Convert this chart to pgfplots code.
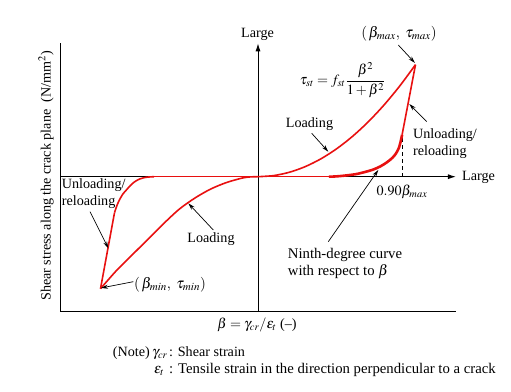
\documentclass[border=0pt]{standalone}
\usepackage{mathptmx}
\usepackage[no-math]{fontspec}
\setmainfont{Liberation Serif}
\usepackage{pgfplots}
\pgfplotsset{compat=1.18}
\usetikzlibrary{arrows.meta}
\definecolor{cred}{RGB}{232,16,16}
\tikzset{ann/.style={-{Stealth[length=7bp,width=4bp]}, line width=0.7bp},
  lbl/.style={inner sep=0pt}}
\newcommand\fs[1]{\fontsize{#1}{16.7}\selectfont}
\begin{document}
\fontsize{14}{16.7}\selectfont
\begin{tikzpicture}[font=\fs{14.2}]
\useasboundingbox (0,0) rectangle (511bp,-392bp);
\begin{axis}[
  at={(60.7bp,-311.7bp)}, anchor=south west,
  x=157.5bp, y=112bp,
  xmin=-1.2527, xmax=1.2571, ymin=-1.2054, ymax=1.1911,
  axis x line*=bottom, axis y line*=left,
  axis line style={line width=1.1bp},
  x axis line style={-}, y axis line style={-},
  xtick=\empty, ytick=\empty,
  clip=false,
]
% central axes
\draw[line width=1bp, -{Latex[length=8bp,width=5bp]}] (axis cs:-1.2527,0) -- (axis cs:1.2571,0);
\draw[line width=1bp, -{Latex[length=8bp,width=5bp]}] (axis cs:0,-1.2054) -- (axis cs:0,1.1911);
\draw[dashed, dash pattern=on 4bp off 3bp, line width=0.8bp] (axis cs:0.916,0) -- (axis cs:0.916,0.372);
% loading (positive)
\addplot[cred, line width=1.6bp, smooth] coordinates {
(0,0)(0.1,0.01)(0.2,0.04)(0.3,0.09)(0.4,0.16)(0.5,0.25)(0.6,0.36)(0.7,0.49)(0.8,0.64)(0.9,0.81)(1,1)};
% unloading/reloading (positive)
\addplot[cred, line width=1.6bp] coordinates {(1,1)(0.915,0.375)};
\addplot[cred, line width=2.6bp, smooth] coordinates {
(0.915,0.375)(0.905,0.31)(0.894,0.256)(0.875,0.205)(0.852,0.167)(0.82,0.13)(0.777,0.092)(0.73,0.063)(0.692,0.047)(0.63,0.025)(0.565,0.012)(0.5,0.003)(0.45,0)};
\addplot[cred, line width=1.6bp] coordinates {(0.45,0)(0,0)};
% loading (negative)
\addplot[cred, line width=1.6bp, smooth] coordinates {
(-1,-1)(-0.9,-0.84)(-0.8,-0.70)(-0.7,-0.56)(-0.6,-0.42)(-0.5,-0.29)(-0.4,-0.19)(-0.3,-0.11)(-0.2,-0.052)(-0.1,-0.012)(-0.05,-0.002)(0,0)};
% unloading/reloading (negative)
\addplot[cred, line width=1.6bp] coordinates {(-1,-1)(-0.911,-0.321)};
\addplot[cred, line width=1.6bp, smooth] coordinates {
(-0.911,-0.321)(-0.895,-0.255)(-0.879,-0.205)(-0.858,-0.155)(-0.834,-0.116)(-0.81,-0.078)(-0.783,-0.045)(-0.75,-0.02)(-0.71,-0.005)(-0.66,0)};
\addplot[cred, line width=1.6bp] coordinates {(-0.66,0)(0,0)};
\end{axis}
\begin{scope}[x=1bp,y=-1bp]
\node[lbl] at (257.5,34) {Large};
\node[lbl,anchor=west] at (462,177) {Large};
\node[lbl,font=\fs{15}] at (399,33.5) {$(\,\beta_{max},\ \tau_{max})$};
\draw[ann] (398.3,45) -- (415,63);
\node[lbl] at (342.5,80) {$\displaystyle\tau_{st}=f_{st}\frac{\beta^2}{1+\beta^2}$};
\node[lbl] at (309.5,124) {Loading};
\draw[ann] (311.7,133.3) -- (328.3,151.7);
\node[lbl,anchor=west] at (413,135) {Unloading/};
\node[lbl,anchor=west] at (413,151.7) {reloading};
\draw[ann] (426.7,121.7) -- (409.3,104);
\node[lbl] at (402,191.7) {$0.90\beta_{max}$};
\node[lbl,anchor=west,font=\fs{14.8}] at (287.7,255) {Ninth-degree curve};
\node[lbl,anchor=west,font=\fs{14.8}] at (287.7,271.7) {with respect to $\beta$};
\draw[ann] (328.3,241.7) -- (378.3,170);
\node[lbl,anchor=west] at (61.7,185) {Unloading/};
\node[lbl,anchor=west] at (61.7,201.7) {reloading};
\draw[ann] (90,211.7) -- (108.3,248.3);
\node[lbl] at (211,239.3) {Loading};
\draw[ann] (213.3,230) -- (188.3,203.3);
\node[lbl,font=\fs{15}] at (170,285) {$(\,\beta_{min},\ \tau_{min})$};
\draw[ann] (133.3,281.7) -- (101,288);
\node[lbl,rotate=90] at (46,176) {Shear stress along the crack plane\ \ (N/mm$^2$)};
\node[lbl] at (257,325) {$\beta=\gamma_{cr}/\varepsilon_t$\ (\textendash)};
\node[lbl,anchor=base west] at (112.7,356) {(Note)};
\node[lbl,anchor=base west] at (152,356) {$\gamma_{cr}$};
\node[lbl,anchor=base west] at (169,356) {: Shear strain};
\node[lbl,anchor=base west] at (154,373) {$\varepsilon_t$};
\node[lbl,anchor=base west,font=\fs{14.8}] at (169,373) {: Tensile strain in the direction perpendicular to a crack};
\end{scope}
\end{tikzpicture}
\end{document}
